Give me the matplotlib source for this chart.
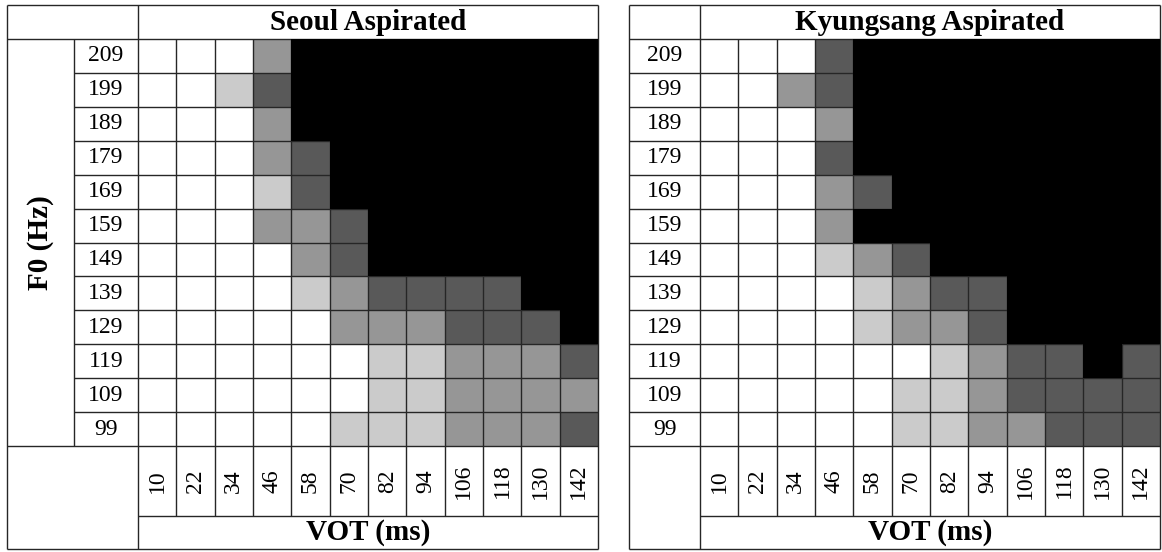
import matplotlib.pyplot as plt
from matplotlib.colors import ListedColormap
import numpy as np

plt.rcParams['font.family'] = ['Liberation Serif', 'DejaVu Serif']

vot_ms = [10, 22, 34, 46, 58, 70, 82, 94, 106, 118, 130, 142]
f0_hz = [209, 199, 189, 179, 169, 159, 149, 139, 129, 119, 109, 99]

# response level of each cell: 0 = white ... 4 = black, rows follow f0_hz
seoul_levels = [
    [0, 0, 0, 2, 4, 4, 4, 4, 4, 4, 4, 4],
    [0, 0, 1, 3, 4, 4, 4, 4, 4, 4, 4, 4],
    [0, 0, 0, 2, 4, 4, 4, 4, 4, 4, 4, 4],
    [0, 0, 0, 2, 3, 4, 4, 4, 4, 4, 4, 4],
    [0, 0, 0, 1, 3, 4, 4, 4, 4, 4, 4, 4],
    [0, 0, 0, 2, 2, 3, 4, 4, 4, 4, 4, 4],
    [0, 0, 0, 0, 2, 3, 4, 4, 4, 4, 4, 4],
    [0, 0, 0, 0, 1, 2, 3, 3, 3, 3, 4, 4],
    [0, 0, 0, 0, 0, 2, 2, 2, 3, 3, 3, 4],
    [0, 0, 0, 0, 0, 0, 1, 1, 2, 2, 2, 3],
    [0, 0, 0, 0, 0, 0, 1, 1, 2, 2, 2, 2],
    [0, 0, 0, 0, 0, 1, 1, 1, 2, 2, 2, 3],
]
kyungsang_levels = [
    [0, 0, 0, 3, 4, 4, 4, 4, 4, 4, 4, 4],
    [0, 0, 2, 3, 4, 4, 4, 4, 4, 4, 4, 4],
    [0, 0, 0, 2, 4, 4, 4, 4, 4, 4, 4, 4],
    [0, 0, 0, 3, 4, 4, 4, 4, 4, 4, 4, 4],
    [0, 0, 0, 2, 3, 4, 4, 4, 4, 4, 4, 4],
    [0, 0, 0, 2, 4, 4, 4, 4, 4, 4, 4, 4],
    [0, 0, 0, 1, 2, 3, 4, 4, 4, 4, 4, 4],
    [0, 0, 0, 0, 1, 2, 3, 3, 4, 4, 4, 4],
    [0, 0, 0, 0, 1, 2, 2, 3, 4, 4, 4, 4],
    [0, 0, 0, 0, 0, 0, 1, 2, 3, 3, 4, 3],
    [0, 0, 0, 0, 0, 1, 1, 2, 3, 3, 3, 3],
    [0, 0, 0, 0, 0, 1, 1, 2, 2, 3, 3, 3],
]

shades = ['#ffffff', '#cbcbcb', '#969696', '#595959', '#000000']
LC = '#262626'
LW = 1.0

W, H = 1162, 552
# vertical layout in pixels: top, header bottom, grid bottom, tick row bottom, bottom
TOP, HEAD, GRID, TICK, BOT = 5, 39, 446, 516, 549

fig = plt.figure(figsize=(W / 100, H / 100), dpi=100)


def draw_panel(left, f0_w, num_w, right, levels, title, with_f0):
    ncol, nrow = len(vot_ms), len(f0_hz)
    col = (right - left - f0_w - num_w) / ncol
    row = (GRID - HEAD) / nrow
    ax = fig.add_axes([left / W, (H - BOT) / H, (right - left) / W, (BOT - TOP) / H])
    x_lo = -(f0_w + num_w) / col
    num_x = -num_w / col
    y_top = -(HEAD - TOP) / row
    y_tick = nrow + (TICK - GRID) / row
    y_bot = nrow + (BOT - GRID) / row
    ax.set_xlim(x_lo, ncol)
    ax.set_ylim(y_bot, y_top)
    ax.axis('off')

    lv = np.array(levels)
    xe, ye = np.arange(ncol + 1), np.arange(nrow + 1)
    cmap = ListedColormap(shades)
    ax.pcolormesh(xe, ye, lv, cmap=cmap, vmin=-0.5, vmax=4.5, zorder=1)

    kw = dict(color=LC, lw=LW, zorder=5, clip_on=False)
    # grid rows and columns
    ax.hlines(np.arange(1, nrow), num_x, ncol, **kw)
    ax.hlines(y_tick, 0, ncol, **kw)
    ax.vlines(np.arange(1, ncol), 0, y_tick, **kw)
    if with_f0:
        ax.vlines(num_x, 0, nrow, **kw)

    # solid black cells cover the grid lines between them
    ax.pcolormesh(xe, ye, np.ma.masked_less(lv, 4), cmap=cmap, vmin=-0.5, vmax=4.5,
                  zorder=6)

    # outer frame and main splits
    ax.hlines([y_top, 0, nrow, y_bot], x_lo, ncol, **kw)
    ax.vlines([x_lo, 0, ncol], y_top, y_bot, **kw)

    ax.text(ncol / 2, y_top / 2, title, ha='center', va='center',
            fontsize=21, fontweight='bold')
    for i, f in enumerate(f0_hz):
        ax.text(num_x / 2, i + 0.5, str(f), ha='center', va='center', fontsize=17)
    for j, v in enumerate(vot_ms):
        ax.text(j + 0.5, (nrow + y_tick) / 2, str(v), ha='center', va='center',
                rotation=90, fontsize=17)
    ax.text(ncol / 2, (y_tick + y_bot) / 2, 'VOT (ms)', ha='center', va='center',
            fontsize=21, fontweight='bold')
    if with_f0:
        ax.text((x_lo + num_x) / 2, nrow / 2, 'F0 (Hz)', ha='center', va='center',
                rotation=90, fontsize=21, fontweight='bold')


draw_panel(7, 67, 64, 598, seoul_levels, 'Seoul Aspirated', True)
draw_panel(629, 0, 71, 1160, kyungsang_levels, 'Kyungsang Aspirated', False)

fig.savefig('out.png', dpi=100)
plt.close(fig)
